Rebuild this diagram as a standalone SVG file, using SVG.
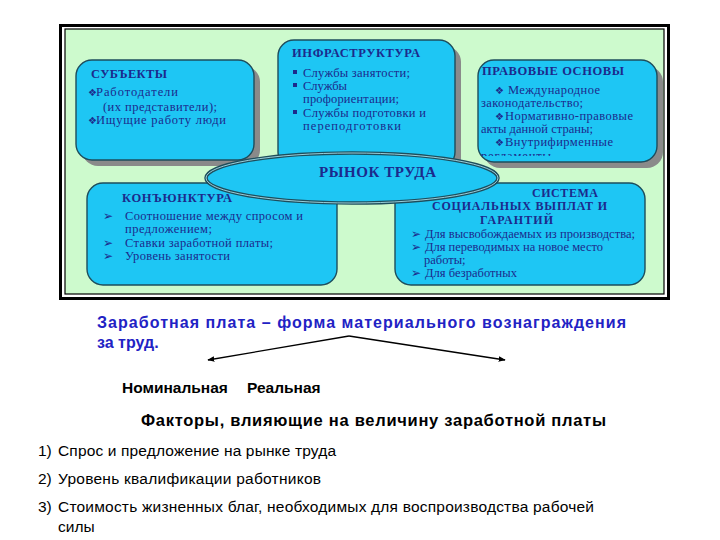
<svg xmlns="http://www.w3.org/2000/svg" width="720" height="540" viewBox="0 0 720 540">
<style>
.box{fill:#1ec6f4;stroke:#1d4d5c;stroke-width:1.4}
.sh{fill:#8a8a8a}
.t{font-family:"Liberation Serif","DejaVu Serif",serif;fill:#1c2a8c;font-size:12.5px}
.h{font-family:"Liberation Serif","DejaVu Serif",serif;fill:#1c2a8c;font-size:12.5px;font-weight:bold}
.b{font-family:"DejaVu Sans",sans-serif;font-size:10px;fill:#1c2a8c}
.a{font-family:"DejaVu Sans",sans-serif;font-size:12px;fill:#1c2a8c;font-weight:bold}
.s{font-family:"Liberation Sans",Arial,sans-serif}
</style>
<defs>
<marker id="ah" viewBox="0 0 10 10" refX="9" refY="5" markerWidth="7" markerHeight="7" orient="auto" markerUnits="userSpaceOnUse"><path d="M0,1 L10,5 L0,9 z" fill="#000"/></marker>
<clipPath id="cp"><rect x="478" y="60" width="179" height="96"/></clipPath>
</defs>
<rect width="720" height="540" fill="#fff"/>
<g id="frame">
<rect x="60.5" y="25.5" width="608" height="273" fill="none" stroke="#000" stroke-width="3"/>
<rect x="65" y="29" width="599" height="265" fill="#cdfacd" stroke="#000" stroke-width="1.2"/>
</g>
<g id="subjects">
<rect class="sh" x="82" y="66" width="178" height="100" rx="16"/>
<rect class="box" x="76" y="60" width="178" height="100" rx="16"/>
<text class="h" x="91" y="78" textLength="76" lengthAdjust="spacing">СУБЪЕКТЫ</text>
<text class="b" x="88" y="96">❖</text><text class="t" x="96" y="96" textLength="82" lengthAdjust="spacing">Работодатели</text>
<text class="t" x="103" y="111" textLength="114" lengthAdjust="spacing">(их представители);</text>
<text class="b" x="88" y="124">❖</text><text class="t" x="96" y="124" textLength="130" lengthAdjust="spacing">Ищущие работу люди</text>
</g>
<g id="infra">
<rect class="sh" x="284" y="46" width="177" height="128" rx="16"/>
<rect class="box" x="278" y="40" width="177" height="128" rx="16"/>
<text class="h" x="292" y="57" textLength="128" lengthAdjust="spacing">ИНФРАСТРУКТУРА</text>
<rect x="293" y="70" width="4" height="4" fill="#1c2a8c"/>
<text class="t" x="303" y="77" textLength="107" lengthAdjust="spacing">Службы занятости;</text>
<rect x="293" y="83" width="4" height="4" fill="#1c2a8c"/>
<text class="t" x="303" y="90">Службы</text>
<text class="t" x="303" y="103" textLength="96" lengthAdjust="spacing">профориентации;</text>
<rect x="293" y="110" width="4" height="4" fill="#1c2a8c"/>
<text class="t" x="303" y="117" textLength="123" lengthAdjust="spacing">Службы подготовки и</text>
<text class="t" x="303" y="130" textLength="98" lengthAdjust="spacing">переподготовки</text>
</g>
<g id="legal">
<rect class="sh" x="484" y="66" width="179" height="102" rx="16"/>
<rect class="box" x="478" y="60" width="179" height="102" rx="16"/>
<text class="h" x="482" y="75" textLength="142" lengthAdjust="spacing">ПРАВОВЫЕ ОСНОВЫ</text>
<text class="b" x="495" y="94">❖</text><text class="t" x="508" y="94" textLength="92" lengthAdjust="spacing">Международное</text>
<text class="t" x="481" y="107" textLength="102" lengthAdjust="spacing">законодательство;</text>
<text class="b" x="495" y="120">❖</text><text class="t" x="505" y="120" textLength="128" lengthAdjust="spacing">Нормативно-правовые</text>
<text class="t" x="481" y="133" textLength="112" lengthAdjust="spacing">акты данной страны;</text>
<text class="b" x="495" y="146">❖</text><text class="t" x="505" y="146" textLength="108" lengthAdjust="spacing">Внутрифирменные</text>
<text class="t" x="481" y="160" clip-path="url(#cp)" textLength="70" lengthAdjust="spacing">регламенты</text>
</g>
<g id="conj">
<rect class="box" x="87" y="183" width="250" height="102" rx="16"/>
<text class="h" x="122" y="202" textLength="110" lengthAdjust="spacing">КОНЪЮНКТУРА</text>
<text class="a" x="103" y="220">➢</text><text class="t" x="125" y="220" textLength="178" lengthAdjust="spacing">Соотношение между спросом и</text>
<text class="t" x="125" y="233" textLength="87" lengthAdjust="spacing">предложением;</text>
<text class="a" x="103" y="247">➢</text><text class="t" x="125" y="247" textLength="148" lengthAdjust="spacing">Ставки заработной платы;</text>
<text class="a" x="103" y="260">➢</text><text class="t" x="125" y="260" textLength="105" lengthAdjust="spacing">Уровень занятости</text>
</g>
<g id="system">
<rect class="box" x="395" y="183" width="250" height="102" rx="16"/>
<text class="h" x="532" y="197" style="font-size:12px" textLength="66" lengthAdjust="spacing">СИСТЕМА</text>
<text class="h" x="432" y="210" style="font-size:12px" textLength="175" lengthAdjust="spacing">СОЦИАЛЬНЫХ ВЫПЛАТ И</text>
<text class="h" x="480" y="224" style="font-size:12px" textLength="73" lengthAdjust="spacing">ГАРАНТИЙ</text>
<text class="a" x="411" y="238">➢</text><text class="t" x="425" y="238" textLength="210" lengthAdjust="spacing">Для высвобождаемых из производства;</text>
<text class="a" x="411" y="251">➢</text><text class="t" x="425" y="251" textLength="178" lengthAdjust="spacing">Для переводимых на новое место</text>
<text class="t" x="424" y="264">работы;</text>
<text class="a" x="411" y="277">➢</text><text class="t" x="425" y="277" textLength="92" lengthAdjust="spacing">Для безработных</text>
</g>
<g id="market">
<ellipse cx="352" cy="178" rx="146" ry="25" fill="#1ec6f4" stroke="#1d4d5c" stroke-width="3.5"/>
<ellipse cx="352" cy="178" rx="146" ry="25" fill="none" stroke="#a8dde6" stroke-width="0.9"/>
<text class="h" x="319" y="177" style="font-size:15px" textLength="117" lengthAdjust="spacing">РЫНОК ТРУДА</text>
</g>
<g id="connectors" stroke="#000" stroke-width="1.3" fill="none">
<path d="M349,336 L208,360" marker-end="url(#ah)"/>
<path d="M349,336 L505,360" marker-end="url(#ah)"/>
</g>
<g id="definition" class="s">
<text x="97" y="328" font-size="16" font-weight="bold" fill="#2222c4" textLength="529" lengthAdjust="spacing">Заработная плата – форма материального вознаграждения</text>
<text x="97" y="348" font-size="16" font-weight="bold" fill="#2222c4">за труд.</text>
</g>
<g id="types" class="s" font-size="15.5" font-weight="bold" fill="#000">
<text x="122" y="393">Номинальная</text>
<text x="247" y="393">Реальная</text>
</g>
<g id="factors" class="s" fill="#000">
<text x="141" y="426" font-size="16.5" font-weight="bold" textLength="465" lengthAdjust="spacing">Факторы, влияющие на величину заработной платы</text>
<text x="38" y="456" font-size="15.5">1)</text>
<text x="58" y="456" font-size="15.5" textLength="278" lengthAdjust="spacing">Спрос и предложение на рынке труда</text>
<text x="38" y="484" font-size="15.5">2)</text>
<text x="58" y="484" font-size="15.5" textLength="263" lengthAdjust="spacing">Уровень квалификации работников</text>
<text x="38" y="512" font-size="15.5">3)</text>
<text x="58" y="512" font-size="15.5" textLength="536" lengthAdjust="spacing">Стоимость жизненных благ, необходимых для воспроизводства рабочей</text>
<text x="58" y="532" font-size="15.5">силы</text>
</g>
</svg>
